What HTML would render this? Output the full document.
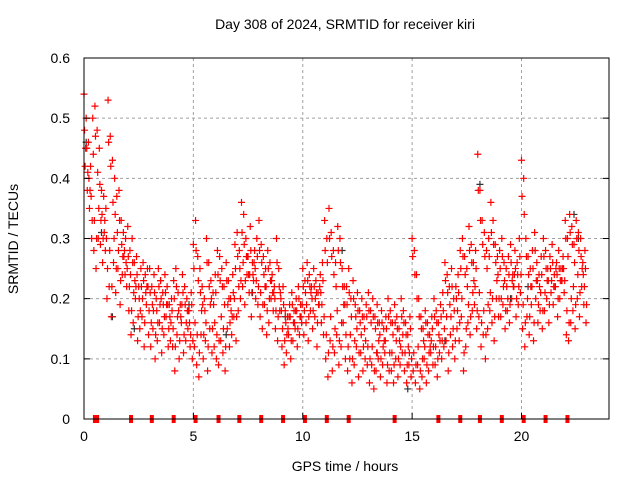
<!DOCTYPE html>
<html><head><meta charset="utf-8"><style>
body{margin:0;background:#fff;}
svg text{font-family:"Liberation Sans",sans-serif;font-size:14px;fill:#000;}
</style></head><body>
<svg id="chart" width="640" height="480">
<rect width="640" height="480" fill="#fff"/>
<text x="345" y="29" text-anchor="middle">Day 308 of 2024, SRMTID for receiver kiri</text>
<text x="345" y="471" text-anchor="middle">GPS time / hours</text>
<text transform="translate(18,239) rotate(-90)" text-anchor="middle">SRMTID / TECUs</text>
<g id="grid"></g><g id="marks"></g><g id="axes"></g>
</svg>
<script>
const xTicks=[0,5,10,15,20];
const yTicks=[0,0.1,0.2,0.3,0.4,0.5,0.6];
const yTickLabels=["0","0.1","0.2","0.3","0.4","0.5","0.6"];
const slotStart=0.0, slotStep=0.1;
const srmtidA=[.54,.50,.46,.42,.50,.52,.48,.45,.38,.37,
.35,.53,.47,.43,.40,.37,.38,.33,.31,.30,
.32,.28,.30,.26,.27,.22,.25,.26,.24,.25,
.25,.22,.24,.20,.25,.23,.21,.24,.22,.19,
.20,.23,.25,.21,.19,.24,.22,.20,.18,.21,
.29,.33,.27,.25,.22,.20,.30,.26,.23,.21,
.24,.28,.27,.25,.22,.26,.23,.20,.24,.29,
.31,.28,.36,.34,.30,.27,.32,.26,.28,.30,
.33,.29,.27,.25,.28,.26,.24,.22,.30,.25,
.20,.22,.18,.17,.19,.21,.18,.20,.22,.19,
.25,.23,.26,.24,.22,.25,.23,.21,.24,.26,
.33,.30,.35,.31,.28,.26,.32,.30,.25,.22,
.22,.25,.20,.23,.19,.21,.18,.20,.17,.19,
.21,.18,.20,.17,.19,.16,.18,.15,.17,.20,
.18,.16,.19,.17,.15,.20,.18,.16,.14,.17,
.30,.28,.24,.20,.17,.15,.18,.16,.14,.17,
.20,.18,.16,.19,.21,.26,.24,.22,.25,.20,
.22,.24,.28,.30,.27,.25,.32,.29,.26,.28,
.44,.38,.33,.31,.28,.30,.36,.33,.29,.27,
.28,.30,.26,.25,.27,.29,.24,.28,.26,.30,
.43,.40,.30,.27,.25,.28,.31,.26,.24,.27,
.30,.28,.25,.27,.29,.24,.26,.28,.25,.27,
.33,.30,.34,.32,.29,.33,.31,.30,.26,.28];
const srmtidB=[.42,.38,.35,.30,.28,.25,.30,.29,.26,.33,
.20,.22,.17,.26,.21,.25,.19,.24,.28,.22,
.18,.14,.16,.20,.13,.15,.17,.12,.19,.14,
.12,.15,.10,.13,.16,.11,.14,.17,.12,.13,
.12,.08,.14,.10,.16,.11,.13,.15,.12,.10,
.12,.09,.07,.14,.10,.13,.08,.15,.11,.12,
.10,.09,.13,.11,.08,.15,.12,.14,.17,.13,
.18,.20,.22,.19,.24,.21,.17,.23,.20,.19,
.17,.15,.19,.14,.16,.20,.18,.15,.13,.18,
.12,.09,.11,.14,.10,.13,.15,.12,.14,.16,
.14,.16,.13,.18,.15,.17,.12,.19,.16,.14,
.10,.07,.13,.08,.11,.14,.09,.12,.16,.10,
.08,.10,.06,.09,.12,.07,.11,.08,.10,.09,
.06,.09,.05,.08,.10,.07,.09,.11,.06,.08,
.08,.06,.10,.07,.09,.11,.08,.06,.09,.07,
.08,.06,.09,.05,.07,.10,.06,.08,.11,.09,
.09,.07,.11,.10,.12,.13,.08,.14,.12,.10,
.15,.13,.17,.08,.12,.16,.14,.18,.19,.15,
.17,.12,.14,.10,.15,.18,.16,.13,.20,.17,
.17,.19,.15,.18,.16,.20,.22,.17,.19,.21,
.15,.12,.17,.14,.19,.13,.20,.16,.18,.15,
.18,.20,.16,.21,.19,.22,.17,.20,.23,.21,
.14,.13,.16,.18,.15,.20,.17,.22,.19,.16];
const srmtidC=[.48,.45,.40,.37,.44,.47,.41,.39,.34,.31,
.30,.46,.42,.36,.34,.31,.33,.29,.27,.26,
.27,.24,.26,.23,.24,.20,.22,.23,.21,.22,
.21,.19,.21,.18,.22,.20,.19,.21,.19,.17,
.18,.20,.22,.18,.17,.21,.19,.18,.16,.19,
.25,.28,.23,.21,.19,.18,.26,.22,.20,.19,
.21,.24,.23,.22,.19,.23,.20,.18,.21,.25,
.27,.25,.31,.29,.27,.24,.28,.24,.25,.27,
.28,.26,.24,.22,.25,.23,.21,.20,.26,.22,
.18,.19,.16,.15,.17,.19,.16,.18,.20,.17,
.22,.21,.23,.22,.20,.22,.21,.19,.21,.23,
.28,.26,.30,.27,.24,.22,.28,.26,.22,.19,
.19,.21,.17,.20,.17,.18,.16,.17,.15,.17,
.18,.16,.17,.15,.16,.14,.16,.13,.15,.17,
.16,.14,.16,.15,.13,.17,.16,.14,.12,.15,
.27,.24,.20,.17,.15,.13,.16,.14,.12,.15,
.17,.16,.14,.17,.18,.23,.21,.19,.22,.18,
.20,.21,.25,.27,.24,.22,.28,.26,.23,.25,
.38,.33,.29,.27,.25,.27,.31,.29,.26,.24,
.25,.27,.23,.22,.24,.26,.22,.25,.24,.27,
.37,.34,.27,.24,.22,.25,.28,.23,.22,.24,
.27,.25,.23,.25,.26,.22,.24,.25,.23,.25,
.30,.27,.31,.29,.26,.30,.28,.27,.24,.25];
const srmtidD=[.45,.41,.38,.33,.33,.30,.35,.33,.30,.28,
.25,.28,.22,.30,.25,.28,.23,.27,.24,.25,
.22,.18,.21,.22,.17,.18,.20,.16,.22,.18,
.16,.18,.14,.16,.19,.15,.17,.19,.15,.16,
.15,.12,.17,.13,.19,.14,.16,.18,.14,.13,
.16,.14,.11,.18,.14,.16,.12,.19,.15,.16,
.14,.13,.17,.15,.12,.19,.16,.17,.20,.17,
.22,.23,.26,.23,.27,.24,.21,.26,.23,.22,
.21,.19,.22,.18,.20,.23,.21,.18,.17,.21,
.15,.13,.14,.17,.13,.16,.18,.15,.17,.19,
.18,.19,.17,.21,.18,.20,.16,.22,.19,.17,
.14,.11,.17,.12,.15,.18,.13,.16,.19,.14,
.12,.14,.10,.13,.15,.11,.14,.12,.13,.12,
.10,.12,.08,.11,.13,.10,.12,.13,.09,.11,
.11,.09,.13,.10,.12,.14,.11,.09,.11,.10,
.11,.09,.12,.08,.10,.12,.09,.11,.13,.12,
.12,.10,.13,.13,.15,.17,.11,.17,.15,.13,
.18,.16,.20,.11,.15,.19,.17,.21,.22,.18,
.21,.16,.18,.14,.19,.21,.20,.17,.23,.20,
.20,.22,.18,.20,.19,.23,.24,.20,.22,.24,
.19,.16,.20,.17,.22,.16,.23,.19,.21,.18,
.21,.23,.19,.23,.22,.25,.20,.23,.25,.23,
.18,.16,.20,.22,.19,.24,.21,.25,.22,.19];
const blackTimes=[0.1,0.8,1.3,2.3,3.5,4.8,6.5,7.7,9.2,11.8,13.4,14.8,16.5,18.1,19.5,20.3,22.4,22.6];
const blackValues=[0.46,0.31,0.17,0.15,0.23,0.19,0.14,0.21,0.17,0.28,0.11,0.05,0.13,0.39,0.20,0.22,0.34,0.30];
const gapTimes=[0.5,0.6,2.15,3.1,4.1,5.1,6.15,7.1,8.1,9.1,10.1,11.1,12.1,14.2,16.2,17.2,18.1,19.1,20.1,21.1,22.1];

const L=84,R=609,T=58,B=419;
const x=v=>L+v/24*(R-L);
const y=v=>B-v/0.6*(B-T);
const NS="http://www.w3.org/2000/svg";
function mk(p,tag,at){const e=document.createElementNS(NS,tag);for(const k in at)e.setAttribute(k,at[k]);p.appendChild(e);return e;}
const grid=document.getElementById('grid'),marks=document.getElementById('marks'),axes=document.getElementById('axes');
xTicks.forEach((t,i)=>{
 if(t>0){const g=mk(grid,'line',{x1:x(t),x2:x(t),y1:T,y2:B,stroke:'#a0a0a0','stroke-dasharray':'3,3'});
 
 }
 const tk=mk(axes,'line',{x1:x(t),x2:x(t),y1:B,y2:B-6,stroke:'#000'});
 
 
 const tl=mk(axes,'text',{x:x(t),y:B+22,'text-anchor':'middle'});tl.textContent=String(t);
 
 
});
yTicks.forEach((t,i)=>{
 if(t>0&&t<0.6){const g=mk(grid,'line',{x1:L,x2:R,y1:y(t),y2:y(t),stroke:'#a0a0a0','stroke-dasharray':'3,3'});
 
 }
 const tk=mk(axes,'path',{d:`M${L},${y(t)}h6M${R},${y(t)}h-6`,stroke:'#000'});
 
 
 const tl=mk(axes,'text',{x:L-14,y:y(t)+5,'text-anchor':'end'});tl.textContent=yTickLabels[i];
 
 
});
const frame=mk(axes,'rect',{x:L,y:T,width:R-L,height:B-T,fill:'none',stroke:'#000'});


function plus(cx,cy,col,name){
 const p=mk(marks,'path',{d:`M${cx-3.5},${cy}h7M${cx},${cy-3.5}v7`,stroke:col,'stroke-width':1.2});
 
 
}
blackTimes.forEach((t,i)=>plus(x(t),y(blackValues[i]),'#333','black-point'));
srmtidA.forEach((v,i)=>plus(x(slotStart+i*slotStep),y(v),'#f00','srmtid-point'));
srmtidB.forEach((v,i)=>plus(x(slotStart+i*slotStep+0.05),y(v),'#f00','srmtid-point'));
srmtidC.forEach((v,i)=>plus(x(slotStart+i*slotStep+0.025),y(v),'#f00','srmtid-point'));
srmtidD.forEach((v,i)=>plus(x(slotStart+i*slotStep+0.075),y(v),'#f00','srmtid-point'));
gapTimes.forEach(t=>{
 const r=mk(marks,'rect',{x:x(t)-2,y:B-4,width:4,height:8,fill:'#f00'});
 
 
});
</script>
</body></html>
